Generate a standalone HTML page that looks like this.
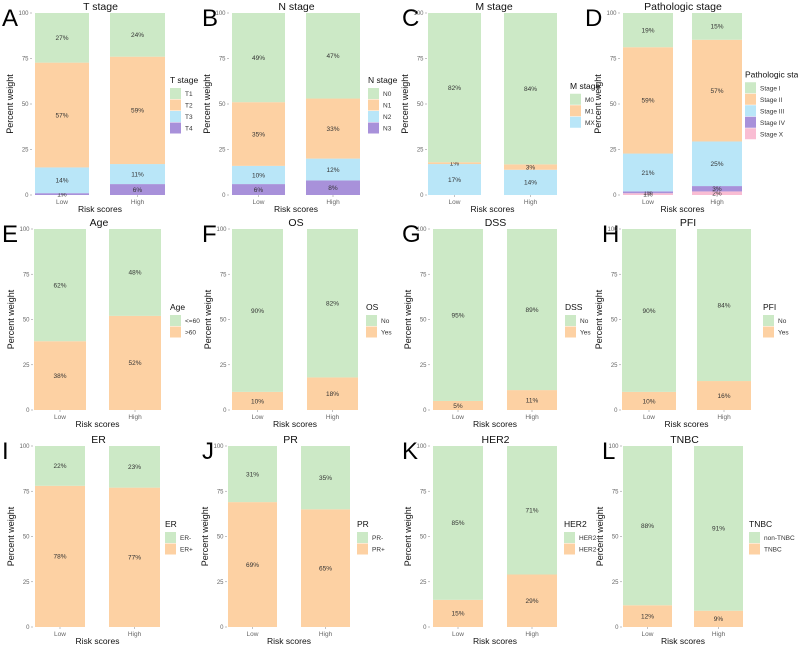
<!DOCTYPE html>
<html><head><meta charset="utf-8"><style>
body{margin:0;background:#fff;}
svg{display:block;font-family:"Liberation Sans",Arial,sans-serif;}
</style></head><body>
<svg id="fig" width="798" height="646" viewBox="0 0 798 646"></svg>
<script>
const panelLetters=["A","B","C","D","E","F","G","H","I","J","K","L"];
const panelTitles=["T stage","N stage","M stage","Pathologic stage","Age","OS","DSS","PFI","ER","PR","HER2","TNBC"];
const categories=["Low","High"];
// series listed bottom-to-top of the stack; legend shows them top-to-bottom
const seriesNames=[["T4","T3","T2","T1"],["N3","N2","N1","N0"],["MX","M1","M0"],["Stage X","Stage IV","Stage III","Stage II","Stage I"],[">60","<=60"],["Yes","No"],["Yes","No"],["Yes","No"],["ER+","ER-"],["PR+","PR-"],["HER2+","HER2-"],["TNBC","non-TNBC"]];
const lowValues=[[1,14,57,27],[6,10,35,49],[17,1,82],[1,1,21,59,19],[38,62],[10,90],[5,95],[10,90],[78,22],[69,31],[15,85],[12,88]];
const highValues=[[6,11,59,24],[8,12,33,47],[14,3,84],[2,3,25,57,15],[52,48],[18,82],[11,89],[16,84],[77,23],[65,35],[29,71],[9,91]];
const yTicks=[0,25,50,75,100];
const colorMap={"T1":"#cce9c6","T2":"#fdd1a3","T3":"#b9e6f8","T4":"#a891da","N0":"#cce9c6","N1":"#fdd1a3","N2":"#b9e6f8","N3":"#a891da","M0":"#cce9c6","M1":"#fdd1a3","MX":"#b9e6f8","Stage I":"#cce9c6","Stage II":"#fdd1a3","Stage III":"#b9e6f8","Stage IV":"#a891da","Stage X":"#f9bdd3"};
function colorOf(name,idx,n){ if(colorMap[name]) return colorMap[name]; return idx===n-1?"#cce9c6":"#fdd1a3"; }
// layout (pixels)
const rowTB=[[13,195],[229,410],[446,627]];
const colLayout=[
 [[0,32,35,89,110,165,170],[200,229,232,285,306,360,368],[400,427,428,481,504,557,570],[583,620,623,673,692,742,745]],
 [[0,33,34,86,109,161,170],[200,230,232,283,307,358,366],[400,430,433,483,507,557,565],[600,621,622,676,697,751,763]],
 [[0,33,35,85,109,160,165],[200,227,228,277,301,350,357],[400,430,433,483,507,557,564],[600,622,623,672,694,743,749]]];
const NS="http://www.w3.org/2000/svg";
const svg=document.getElementById("fig");
function mk(tag,attrs,parent,text){const e=document.createElementNS(NS,tag);for(const k in attrs)e.setAttribute(k,attrs[k]);if(text!==undefined)e.textContent=text;(parent||svg).appendChild(e);return e;}
for(let p=0;p<12;p++){
  const r=Math.floor(p/4),c=p%4;
  const [left,ax,l0,l1,h0,h1,legX]=colLayout[r][c];
  const [top,bot]=rowTB[r];
  const y=v=>bot-(bot-top)*v/100;
  const g=mk("g",{});
  
  
  const lt=mk("text",{x:left+2,y:top+13,"font-size":24,fill:"#000"},g,panelLetters[p]);
  
  
  const tt=mk("text",{x:(ax+h1)/2+2,y:top-3,"font-size":10.5,"text-anchor":"middle",fill:"#111"},g,panelTitles[p]);
  
  
  // y axis
  yTicks.forEach(t=>{
    mk("line",{x1:ax-2,x2:ax,y1:y(t),y2:y(t),stroke:"#999","stroke-width":0.6},g);
    const tl=mk("text",{x:ax-3.5,y:y(t)+2.2,"font-size":6,"text-anchor":"end",fill:"#666"},g,String(t));
    
    
  });
  const yt=mk("text",{x:0,y:0,"font-size":9,"text-anchor":"middle",fill:"#111",transform:`translate(${ax-19},${(top+bot)/2}) rotate(-90)`},g,"Percent weight");
  
  
  const bars=[[l0,l1,lowValues[p]],[h0,h1,highValues[p]]];
  const names=seriesNames[p];
  bars.forEach((b,bi)=>{
    const sum=b[2].reduce((a,v)=>a+v,0);
    let acc=0;
    b[2].forEach((v,si)=>{
      const y0=y(acc/sum*100),y1=y((acc+v)/sum*100);
      const rc=mk("rect",{x:b[0],y:y1,width:b[1]-b[0],height:y0-y1,fill:colorOf(names[si],si,names.length)},g);
      
      
      const lb=mk("text",{x:(b[0]+b[1])/2,y:(y0+y1)/2+2.3,"font-size":6.5,"text-anchor":"middle",fill:"#333"},g,v+"%");
      
      
      acc+=v;
    });
    const cx=(b[0]+b[1])/2;
    mk("line",{x1:cx,x2:cx,y1:bot,y2:bot+2,stroke:"#999","stroke-width":0.6},g);
    const xl=mk("text",{x:cx,y:bot+9,"font-size":6.5,"text-anchor":"middle",fill:"#666"},g,categories[bi]);
    
    
  });
  const xt=mk("text",{x:(l0+h1)/2,y:bot+17,"font-size":8.5,"text-anchor":"middle",fill:"#111"},g,"Risk scores");
  
  
  // legend
  const n=names.length,kh=11.5;
  const blockH=14+n*kh,ltop=(top+bot)/2-blockH/2;
  const lg=mk("text",{x:legX,y:ltop+9,"font-size":8.5,fill:"#111"},g,panelTitles[p]);
  
  
  for(let k=0;k<n;k++){
    const si=n-1-k;
    const ky=ltop+14+k*kh;
    const kr=mk("rect",{x:legX,y:ky,width:11,height:kh-0.5,fill:colorOf(names[si],si,n)},g);
    
    
    const kt=mk("text",{x:legX+15,y:ky+8,"font-size":6.5,fill:"#333"},g,names[si]);
    
    
  }
}
</script>
</body></html>
